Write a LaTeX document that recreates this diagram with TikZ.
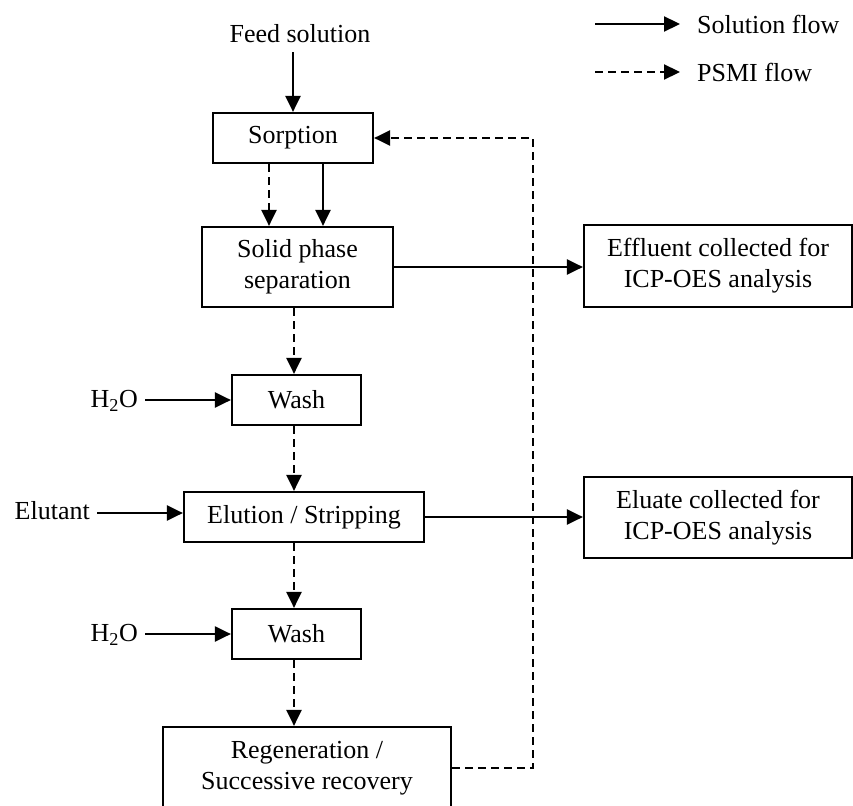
\documentclass[tikz,border=0pt]{standalone}
\usepackage{fontspec}
\setmainfont{Liberation Serif}
\usetikzlibrary{arrows.meta}
\begin{document}
\begin{tikzpicture}[x=1pt,y=-1pt,
  every node/.style={font=\fontsize{26}{31}\selectfont},
  box/.style={draw, line width=2.2pt, rectangle, inner sep=0pt, align=center},
  lbl/.style={inner sep=0pt},
  sol/.style={line width=2.2pt, -{Triangle[length=16pt,width=15pt]}},
  psmi/.style={sol, dash pattern=on 8pt off 5pt}]
\useasboundingbox (0,0) rectangle (853,805);

% process boxes
\node[box, minimum width=160pt, minimum height=50pt] (sorp)   at (293,138)   {Sorption};
\node[box, minimum width=191pt, minimum height=80pt] (solid)  at (297.5,267) {Solid phase\\separation};
\node[box, minimum width=268pt, minimum height=82pt] (eff)    at (718,266)   {Effluent collected for\\ICP-OES analysis};
\node[box, minimum width=129pt, minimum height=50pt] (wash1)  at (296.5,400) {Wash};
\node[box, minimum width=240pt, minimum height=50pt] (elu)    at (304,517)   {Elution / Stripping};
\node[box, minimum width=268pt, minimum height=81pt] (eluate) at (718,517.5) {Eluate collected for\\ICP-OES analysis};
\node[box, minimum width=129pt, minimum height=50pt] (wash2)  at (296.5,634) {Wash};
\node[box, minimum width=288pt, minimum height=82pt] (regen)  at (307,768)   {Regeneration /\\Successive recovery};

% input labels
\node[lbl, anchor=base] (feed) at (300,43) {Feed solution};
\node[lbl, inner xsep=7pt, anchor=east] (h2oa) at (145,401) {H\textsubscript{2}O};
\node[lbl, inner xsep=7pt, anchor=east] (elut) at (97,511) {Elutant};
\node[lbl, inner xsep=7pt, anchor=east] (h2ob) at (145,635) {H\textsubscript{2}O};

% legend
\coordinate (la1) at (595,24);
\coordinate (lb1) at (680,24);
\coordinate (la2) at (595,72);
\coordinate (lb2) at (680,72);
\node[lbl, anchor=west] (lsol) at (697,24) {Solution flow};
\node[lbl, anchor=west] (lpsmi) at (697,72) {PSMI flow};
\draw[sol] (la1) -- (lb1);
\draw[psmi] (la2) -- (lb2);

% helper coordinates
\coordinate (axis) at (294,0);
\coordinate (d1) at ([xshift=-24pt]sorp.south);
\coordinate (s1) at ([xshift=30pt]sorp.south);
\coordinate (fbx) at (533,0);
\coordinate (fs) at ([yshift=-9pt]feed.south -| sorp.north);

% solution flow
\draw[sol] (fs) -- (sorp.north);
\draw[sol] (s1) -- (s1 |- solid.north);
\draw[sol] (solid.east) -- (solid.east -| eff.west);
\draw[sol] (h2oa.east |- wash1.west) -- (wash1.west);
\draw[sol] ([yshift=4pt]elut.east |- elu.west) -- ([yshift=4pt]elu.west);
\draw[sol] (elu.east) -- (elu.east -| eluate.west);
\draw[sol] (h2ob.east |- wash2.west) -- (wash2.west);

% sorbent flow
\draw[psmi] (d1) -- (d1 |- solid.north);
\draw[psmi] (axis |- solid.south) -- (axis |- wash1.north);
\draw[psmi] (axis |- wash1.south) -- (axis |- elu.north);
\draw[psmi] (axis |- elu.south) -- (axis |- wash2.north);
\draw[psmi] (axis |- wash2.south) -- (axis |- regen.north);
\draw[psmi] (regen.east) -| (fbx |- sorp.east) -- (sorp.east);
\end{tikzpicture}
\end{document}
